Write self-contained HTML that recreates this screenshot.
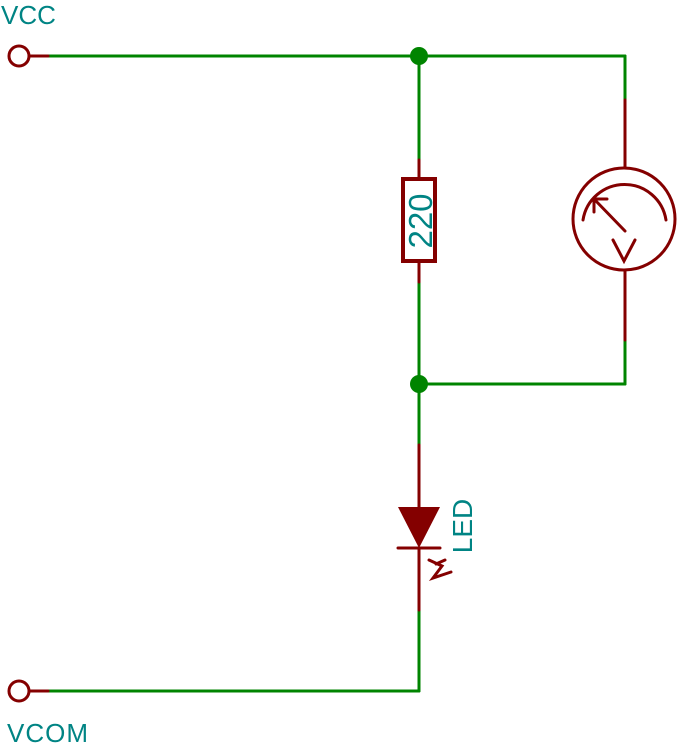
<!DOCTYPE html>
<html><head><style>body{margin:0;background:#fff}svg{display:block}</style></head><body>
<svg width="678" height="743" viewBox="0 0 678 743" xmlns="http://www.w3.org/2000/svg">
<g fill="none" stroke-width="3" stroke-linecap="round">
<g stroke="#008400">
<line x1="48" y1="56" x2="625" y2="56"/>
<line x1="625" y1="56" x2="625" y2="100"/>
<line x1="419" y1="56" x2="419" y2="160"/>
<line x1="419" y1="282" x2="419" y2="445"/>
<line x1="419" y1="384" x2="625" y2="384"/>
<line x1="625" y1="340" x2="625" y2="384"/>
<line x1="419" y1="610" x2="419" y2="691"/>
<line x1="48" y1="691" x2="419" y2="691"/>
</g>
<g stroke="#840000">
<circle cx="19" cy="56" r="10"/>
<line x1="29" y1="56" x2="48" y2="56"/>
<circle cx="19" cy="691" r="10"/>
<line x1="29" y1="691" x2="48" y2="691"/>
<line x1="419" y1="160" x2="419" y2="178"/>
<line x1="419" y1="261" x2="419" y2="282"/>
<rect x="403" y="179" width="32" height="82" stroke-width="4"/>
<line x1="625" y1="100" x2="625" y2="168"/>
<line x1="625" y1="270" x2="625" y2="340"/>
<circle cx="624" cy="219" r="51"/>
<path d="M583 220 A42 42 0 0 1 666 220"/>
<line x1="625" y1="231" x2="594" y2="199"/>
<polyline points="594,212 594,199 607,199"/>
<polyline points="613,240 624,261 635,240"/>
<line x1="419" y1="445" x2="419" y2="507"/>
<line x1="419" y1="548" x2="419" y2="610"/>
<line x1="398" y1="548" x2="440" y2="548"/>
<polyline points="429,560 442,566 433,578 451,572"/>
<polyline points="436,564 445,560"/>
</g>
</g>
<polygon points="398,507 440,507 419,548" fill="#840000"/>
<circle cx="419" cy="56" r="9" fill="#008400"/>
<circle cx="419" cy="384" r="9" fill="#008400"/>
<g fill="#008484" font-family="Liberation Sans, sans-serif">
<text x="1" y="24" font-size="26">VCC</text>
<text x="7" y="742" font-size="26" letter-spacing="1">VCOM</text>
<text transform="translate(432,221) rotate(-90)" text-anchor="middle" font-size="33">220</text>
<text transform="translate(472,526) rotate(-90)" text-anchor="middle" font-size="28">LED</text>
</g>
</svg>
</body></html>
